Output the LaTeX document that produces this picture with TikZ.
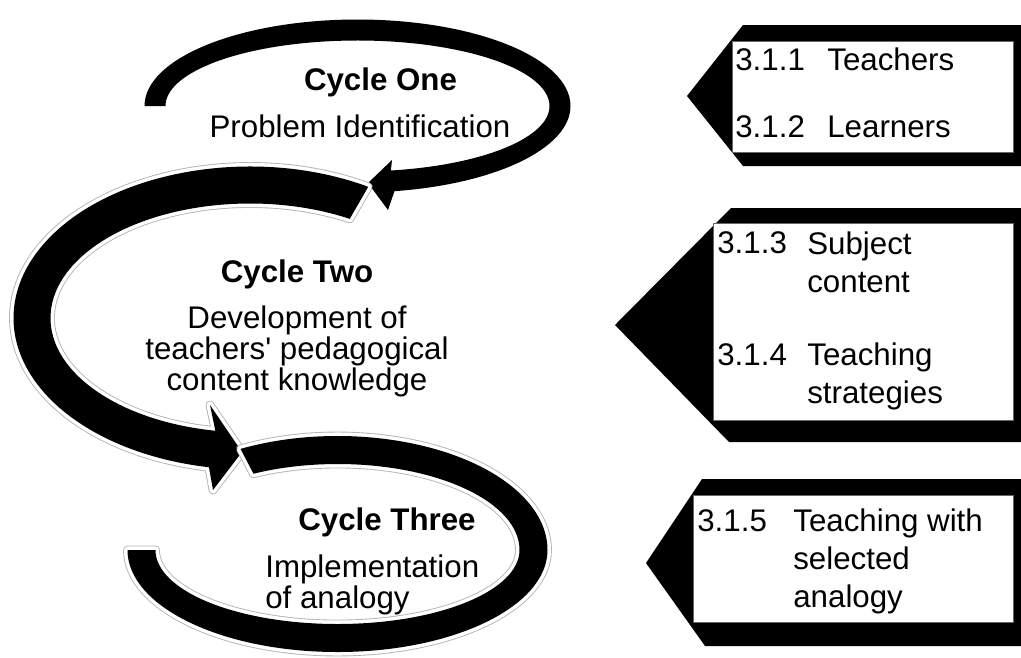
\documentclass[tikz,border=0pt]{standalone}
\usepackage{fontspec}
\setmainfont{Liberation Sans}
\usetikzlibrary{calc}

\begin{document}
\begin{tikzpicture}[x=0.02cm, y=-0.02cm,
    cycletitle/.style={inner sep=0pt, anchor=base,
      font=\fontsize{17.8}{17.6}\selectfont\bfseries},
    cycletext/.style={inner sep=0pt,
      font=\fontsize{17.8}{17.6}\selectfont},
    itemtext/.style={inner sep=0pt, anchor=base west, align=left,
      font=\fontsize{17.8}{21.5}\selectfont},
    cyclearrow/.style={fill=black},
    halo/.style={preaction={draw=black!30, line width=5pt, line join=round},
                 preaction={draw=white, line width=4pt, line join=round}},
    tagshape/.style={fill=black},
    tagcard/.style={fill=white, draw=black!60, line width=0.4pt}
  ]
  \useasboundingbox (0,0) rectangle (1021,657);

  % centres of the three loops
  \coordinate (c1) at (357.5,106);
  \coordinate (c2) at (250,318);
  \coordinate (c3) at (337.5,550);

  % first loop, clockwise, head pointing left
  \fill[cyclearrow] ($(c1)+(180:213 and 86.5)$)
      arc[start angle=180, end angle=440, x radius=213, y radius=86.5]
      -- (388,210) -- (368,183) -- (392,160)
      -- ($(c1)+(440:192 and 65.5)$)
      arc[start angle=440, end angle=180, x radius=192, y radius=65.5] -- cycle;

  % second loop, the other way round
  \fill[cyclearrow, halo] ($(c2)+(300:236.5 and 151.5)$)
      arc[start angle=300, end angle=100, x radius=236.5, y radius=151.5]
      -- (213,490) -- (242,452) -- (210,405)
      -- ($(c2)+(100:199.5 and 114.5)$)
      arc[start angle=100, end angle=300, x radius=199.5, y radius=114.5] -- cycle;

  % third loop, no head
  \fill[cyclearrow, halo] ($(c3)+(242.5:210 and 114)$)
      arc[start angle=242.5, end angle=360, x radius=210, y radius=114]
      arc[start angle=0, end angle=180, x radius=210, y radius=102]
      -- ($(c3)+(180:182 and 74)$)
      arc[start angle=180, end angle=0, x radius=182, y radius=74]
      arc[start angle=360, end angle=242.5, x radius=182, y radius=86] -- cycle;

  % multi-line nodes sit on the baseline of their last line
  \node (one) [cycletitle] at (380.5,90) {Cycle One};
  \node (one text) [cycletext, anchor=base] at (360,137) {Problem Identification};

  \node (two) [cycletitle] at (297,282) {Cycle Two};
  \node (two text) [cycletext, anchor=base, align=center] at (297,390)
      {Development of\\teachers\textquotesingle{} pedagogical\\content knowledge};

  \node (three) [cycletitle] at (387,530) {Cycle Three};
  \node (three text) [cycletext, anchor=base west, align=left] at (265,608)
      {Implementation\\of analogy};

  % tags on the right
  \fill[tagshape] (687,96) -- (743,25) -- (1021,25) -- (1021,166) -- (743,166) -- cycle;
  \draw[tagcard] (732,41) rectangle (1013,152);
  \fill[tagshape] (615,325) -- (731,208) -- (1021,208) -- (1021,442) -- (729,442) -- cycle;
  \draw[tagcard] (713,223) rectangle (1013,420);
  \fill[tagshape] (646,563) -- (702,479) -- (1021,479) -- (1021,646) -- (705,646) -- cycle;
  \draw[tagcard] (693,495) rectangle (1013,622);

  \node (n1) [itemtext] at (735,70)  {3.1.1};
  \node (t1) [itemtext] at (827,70)  {Teachers};
  \node (n2) [itemtext] at (735,137) {3.1.2};
  \node (t2) [itemtext] at (827,137) {Learners};

  \node (n3) [itemtext] at (717,253) {3.1.3};
  \node (t3) [itemtext] at (807,292) {Subject\\content};
  \node (n4) [itemtext] at (717,365) {3.1.4};
  \node (t4) [itemtext] at (807,403) {Teaching\\strategies};

  \node (n5) [itemtext] at (697,531) {3.1.5};
  \node (t5) [itemtext] at (793,607) {Teaching with\\selected\\analogy};
\end{tikzpicture}
\end{document}
